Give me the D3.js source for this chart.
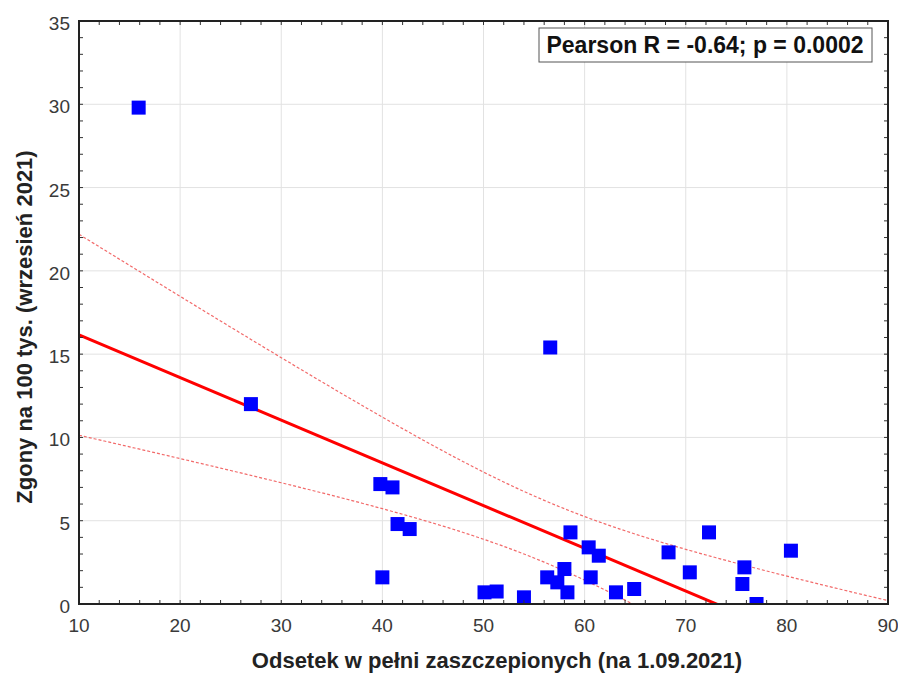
<!DOCTYPE html>
<html>
<head>
<meta charset="utf-8">
<script src="https://cdn.jsdelivr.net/npm/d3@7"></script>
<style>
body { margin:0; background:#fff; }
text { font-family: "Liberation Sans", Arial, sans-serif; }
</style>
</head>
<body>
<div class="chart"></div>
<script>
// data
const vaccinated = [15.9, 27.0, 39.8, 41.0, 41.5, 42.7, 40.0, 50.1, 51.3, 54.0,
    56.6, 58.6, 60.4, 61.4, 58.0, 56.3, 57.3, 58.3, 60.6, 63.1,
    64.9, 68.3, 70.4, 72.3, 75.8, 75.6, 77.0, 80.4];
const deaths = [29.8, 12.0, 7.2, 7.0, 4.8, 4.5, 1.6, 0.7, 0.75, 0.4,
    15.4, 4.3, 3.4, 2.9, 2.1, 1.6, 1.3, 0.7, 1.6, 0.7,
    0.9, 3.1, 1.9, 4.3, 2.2, 1.2, 0.0, 3.2];
const xTicks = [10, 20, 30, 40, 50, 60, 70, 80, 90];
const yTicks = [0, 5, 10, 15, 20, 25, 30, 35];
const statLabel = "Pearson R = -0.64; p = 0.0002";
const xTitle = "Odsetek w pełni zaszczepionych (na 1.09.2021)";
const yTitle = "Zgony na 100 tys. (wrzesień 2021)";
const tCrit = 2.056; // t(0.975, 26)

let margin = {top:21, right:10, left:79, bottom:69};
let outWidth = 898, outHeight = 673;
let width = outWidth - margin.left - margin.right,
    height = outHeight - margin.top - margin.bottom;

const svg = d3.select('.chart').append('svg')
    .attr("width", outWidth)
    .attr("height", outHeight);

const g = svg.append("g")
    .attr("transform", `translate(${margin.left}, ${margin.top})`);

let x = d3.scaleLinear().domain([10, 90]).range([0, width]);
let y = d3.scaleLinear().domain([0, 35]).range([height, 0]);

// regression + 95% confidence band
const n = vaccinated.length;
const mx = d3.mean(vaccinated), my = d3.mean(deaths);
let sxx = 0, sxy = 0, syy = 0;
vaccinated.forEach((v, i) => {
    sxx += (v - mx) ** 2;
    sxy += (v - mx) * (deaths[i] - my);
    syy += (deaths[i] - my) ** 2;
});
const slope = sxy / sxx, icpt = my - slope * mx;
const s = Math.sqrt((syy - sxy * sxy / sxx) / (n - 2));
const fit = xv => icpt + slope * xv;
const half = xv => tCrit * s * Math.sqrt(1 / n + (xv - mx) ** 2 / sxx);
const xs = d3.range(10, 90.01, 0.5);

// grid
g.selectAll(".gx").data(xTicks.slice(1, -1)).join("line")
    .attr("x1", d => x(d)).attr("x2", d => x(d))
    .attr("y1", 0).attr("y2", height)
    .attr("stroke", "#e2e2e2").attr("stroke-width", 1);
g.selectAll(".gy").data(yTicks.slice(1, -1)).join("line")
    .attr("y1", d => y(d)).attr("y2", d => y(d))
    .attr("x1", 0).attr("x2", width)
    .attr("stroke", "#e2e2e2").attr("stroke-width", 1);

svg.append("clipPath").attr("id", "clip")
    .append("rect").attr("x", margin.left).attr("y", margin.top)
    .attr("width", width).attr("height", height);

const plot = g.append("g").attr("clip-path", "url(#clip)")
    .attr("transform", `translate(${-margin.left}, ${-margin.top})`)
    .append("g").attr("transform", `translate(${margin.left}, ${margin.top})`);

const line = d3.line().x(d => x(d[0])).y(d => y(d[1]));

plot.append("path")
    .attr("d", line(xs.map(v => [v, fit(v) + half(v)])))
    .attr("fill", "none").attr("stroke", "#f26a6a")
    .attr("stroke-width", 1.2).attr("stroke-dasharray", "3,2");
plot.append("path")
    .attr("d", line(xs.map(v => [v, fit(v) - half(v)])))
    .attr("fill", "none").attr("stroke", "#f26a6a")
    .attr("stroke-width", 1.2).attr("stroke-dasharray", "3,2");
plot.append("path")
    .attr("d", line([[10, fit(10)], [90, fit(90)]]))
    .attr("fill", "none").attr("stroke", "#ff0000")
    .attr("stroke-width", 3);

// points
const ms = 14;
plot.selectAll("rect.pt").data(vaccinated).join("rect")
    .attr("class", "pt")
    .attr("x", d => x(d) - ms / 2)
    .attr("y", (d, i) => y(deaths[i]) - ms / 2)
    .attr("width", ms).attr("height", ms)
    .attr("fill", "#0000ff");

// minor ticks inside
const xMinor = d3.range(10, 90.01, 2), yMinor = d3.range(0, 35.01, 1);
const tk = g.append("g").attr("stroke", "#333").attr("stroke-width", 1);
xMinor.forEach(d => {
    tk.append("line").attr("x1", x(d)).attr("x2", x(d)).attr("y1", height).attr("y2", height - 4);
    tk.append("line").attr("x1", x(d)).attr("x2", x(d)).attr("y1", 0).attr("y2", 4);
});
yMinor.forEach(d => {
    tk.append("line").attr("y1", y(d)).attr("y2", y(d)).attr("x1", 0).attr("x2", 4);
    tk.append("line").attr("y1", y(d)).attr("y2", y(d)).attr("x1", width).attr("x2", width - 4);
});

// frame
g.append("rect").attr("width", width).attr("height", height)
    .attr("fill", "none").attr("stroke", "#222").attr("stroke-width", 2);

// tick labels
g.selectAll(".xl").data(xTicks).join("text")
    .attr("x", d => x(d)).attr("y", height + 28)
    .attr("text-anchor", "middle")
    .attr("font-size", 19).attr("fill", "#3a3a3a")
    .text(d => d);
g.selectAll(".yl").data(yTicks).join("text")
    .attr("x", -9).attr("y", d => y(d) + 9)
    .attr("text-anchor", "end")
    .attr("font-size", 19).attr("fill", "#3a3a3a")
    .text(d => d);

// titles
svg.append("text")
    .attr("x", 497).attr("y", 668)
    .attr("text-anchor", "middle")
    .attr("font-size", 22).attr("font-weight", "bold").attr("fill", "#222")
    .text(xTitle);
svg.append("text")
    .attr("transform", "translate(32, 327) rotate(-90)")
    .attr("text-anchor", "middle")
    .attr("font-size", 22).attr("font-weight", "bold").attr("fill", "#222")
    .text(yTitle);

// stats box
const box = svg.append("g");
box.append("rect").attr("x", 539).attr("y", 28).attr("width", 333).attr("height", 34)
    .attr("fill", "#fff").attr("stroke", "#555").attr("stroke-width", 1);
box.append("text").attr("x", 705).attr("y", 53)
    .attr("text-anchor", "middle")
    .attr("font-size", 23).attr("font-weight", "bold").attr("fill", "#111")
    .text(statLabel);
</script>
</body>
</html>
